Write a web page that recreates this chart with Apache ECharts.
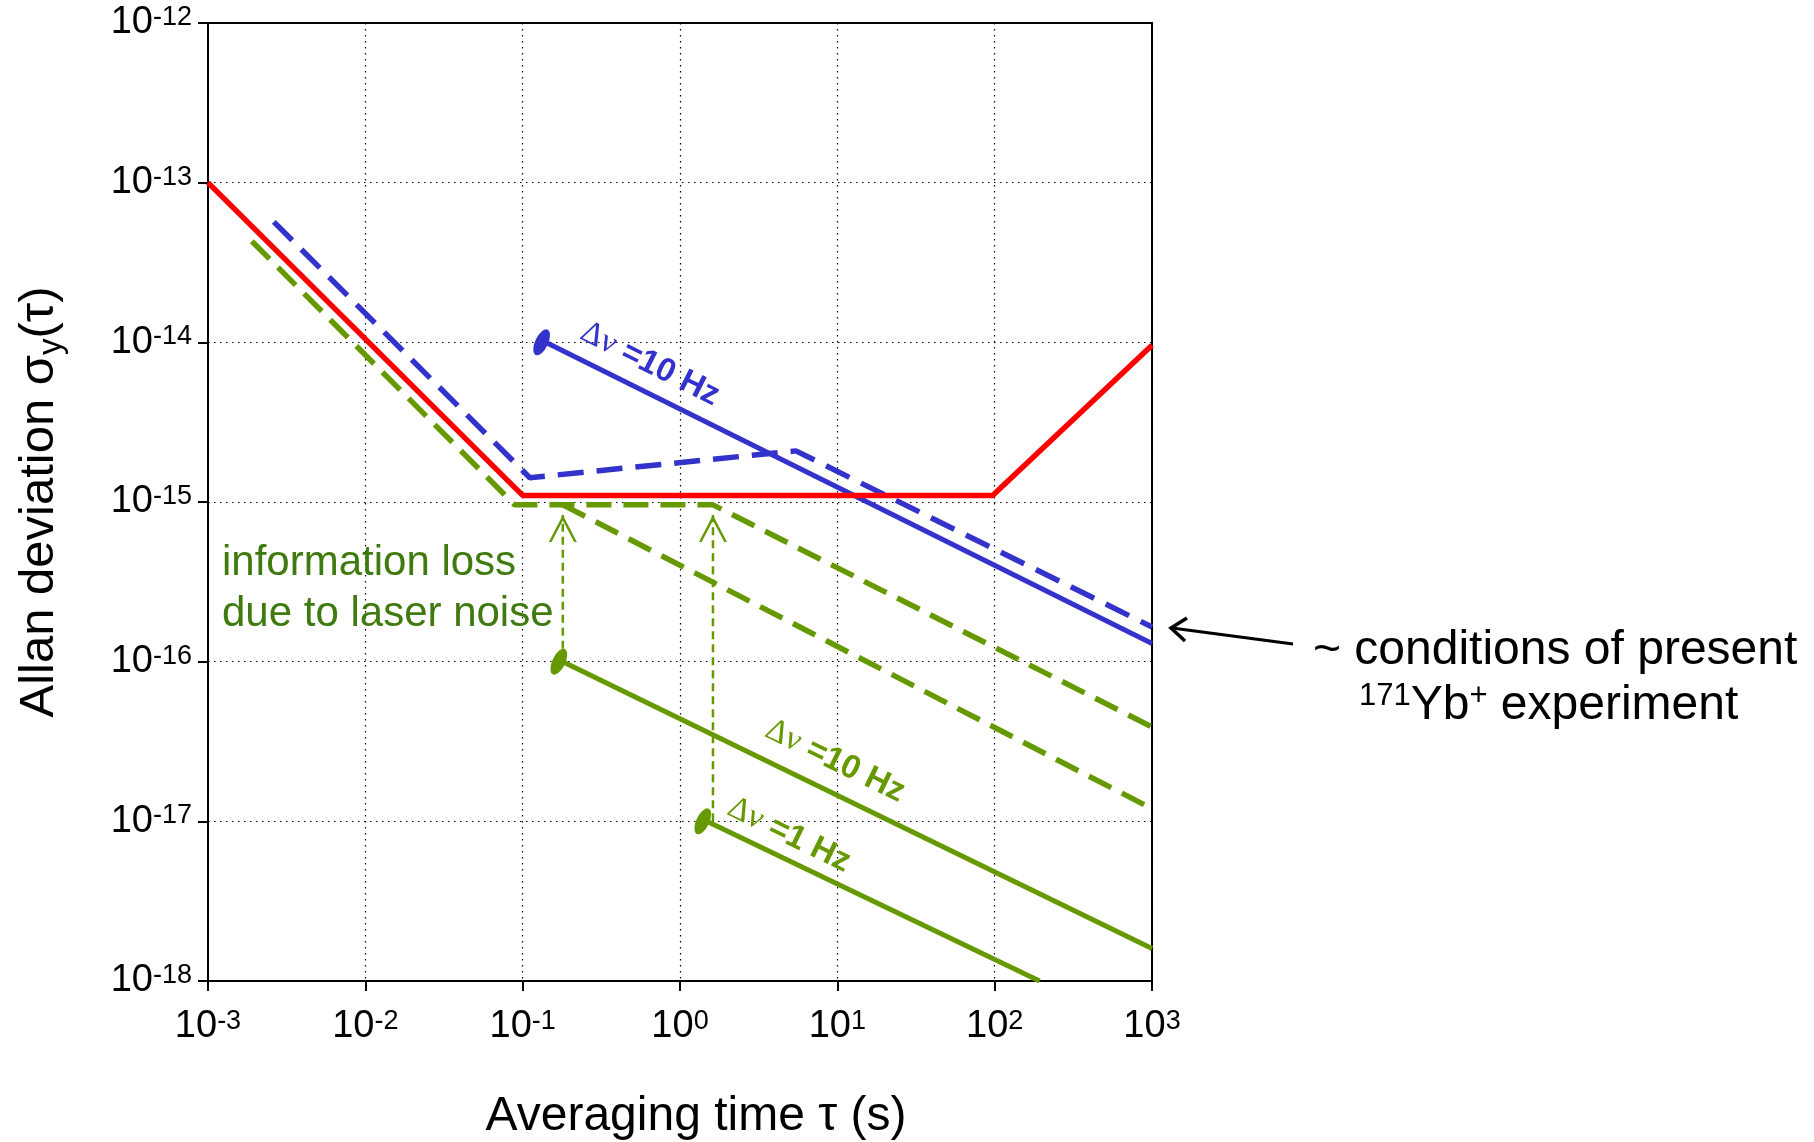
<!DOCTYPE html>
<html><head><meta charset="utf-8">
<script src="https://cdn.jsdelivr.net/npm/echarts@6/dist/echarts.min.js"></script>
<style>html,body{margin:0;padding:0;background:#fff}#c{width:1814px;height:1142px}</style>
</head><body><div id="c"></div>
<script>
// ---- tick labels (exponents of 10) ----
const xExponents = ['-3','-2','-1','0','1','2','3'];
const yExponents = ['-18','-17','-16','-15','-14','-13','-12'];

// ---- series data (tau in s, sigma) ----
const redTau = [1e-3, 0.1, 97, 1000];
const redSigma = [1e-13, 1.1e-15, 1.1e-15, 9.6e-15];

const blueDashTau = [2.62e-3, 0.111, 5.45, 1000];
const blueDashSigma = [5.68e-14, 1.42e-15, 2.09e-15, 1.65e-16];

const blueTau = [0.14, 1000];
const blueSigma = [1e-14, 1.3e-16];

const greenDashTau = [1.9e-3, 0.089, 1.62, 1000];
const greenDashSigma = [4.3e-14, 9.6e-16, 9.6e-16, 3.9e-17];

const greenDash2Tau = [0.18, 1000];
const greenDash2Sigma = [9.6e-16, 1.2e-17];

const green10Tau = [0.18, 1000];
const green10Sigma = [1e-16, 1.6e-18];

const green1Tau = [1.48, 193];
const green1Sigma = [1e-17, 1e-18];

const arrow1Tau = [0.18, 0.18];
const arrow1Sigma = [1e-16, 8.3e-16];
const arrow2Tau = [1.62, 1.62];
const arrow2Sigma = [1e-17, 8.3e-16];

const blueEllipseTau = [0.14];
const blueEllipseSigma = [1e-14];
const greenEllipseTau = [0.18, 1.48];
const greenEllipseSigma = [1e-16, 1e-17];

// ---- styling ----
const RED = '#ff0000', BLUE = '#3333cc', GREEN = '#669900', DKGREEN = '#3f7a0e';
const FONT = '"Liberation Sans", Arial, Helvetica, sans-serif';
const zip = (a, b) => a.map((v, i) => [v, b[i]]);
const ELLIPSE = 'path://M0,-12A5,12,0,1,1,0,12A5,12,0,1,1,0,-12Z';
const CHEVRON = 'path://M0,27L14,0L28,27L25.3,27L14,5.5L2.7,27Z';

const tickRich = {
  b: {fontSize: 38, lineHeight: 38, fontFamily: FONT, color: '#000'},
  s: {fontSize: 27, lineHeight: 27, fontFamily: FONT, color: '#000', verticalAlign: 'top'}
};

function lineSeries(tau, sig, color, width, type, z) {
  return {type: 'line', data: zip(tau, sig), symbol: 'none', silent: true, z: z || 3,
    lineStyle: {color: color, width: width, type: type || 'solid', cap: 'butt'}};
}
function arrowSeries(tau, sig) {
  const d = zip(tau, sig);
  return {type: 'line', silent: true, z: 2, showSymbol: true,
    data: [{value: d[0], symbol: 'none'},
           {value: d[1], symbol: CHEVRON, symbolSize: [28, 27], symbolOffset: [0, '50%']}],
    itemStyle: {color: GREEN},
    lineStyle: {color: GREEN, width: 2.5, type: [8, 5]}};
}
function deltaLabel(text, x, y, rot, color) {
  return {type: 'text', x: x, y: y, rotation: rot, z: 10, silent: true,
    style: {text: '{d|Δν}{t| ' + text + '}', align: 'center', verticalAlign: 'middle', fill: color,
      rich: {d: {fontSize: 33, fontFamily: '"Liberation Serif", serif', fill: color},
             t: {fontSize: 33, fontFamily: FONT, fontWeight: 'bold', fill: color}}}};
}

const chart = echarts.init(document.getElementById('c'), null, {renderer: 'canvas'});
chart.setOption({
  animation: false,
  backgroundColor: '#fff',
  grid: {left: 208, right: 662, top: 23, bottom: 161, show: true, borderColor: '#000', borderWidth: 2,
         outerBoundsMode: 'none'},
  xAxis: {
    type: 'log', logBase: 10, min: 1e-3, max: 1e3, splitNumber: 6,
    name: 'Averaging time τ (s)', nameLocation: 'middle', nameGap: 112, nameMoveOverlap: false,
    nameTextStyle: {fontSize: 48, fontFamily: FONT, color: '#000', padding: [0, 0, 0, 32]},
    axisLine: {show: true, lineStyle: {color: '#000', width: 2}},
    axisTick: {show: true, length: 10, lineStyle: {color: '#000', width: 2}},
    minorTick: {show: false},
    splitLine: {show: true, lineStyle: {color: '#000', width: 1.2, type: [1.5, 4.5]}},
    axisLabel: {margin: 27, showMinLabel: true, showMaxLabel: true, hideOverlap: false,
      formatter: v => '{b|10}{s|' + xExponents[Math.round(Math.log10(v)) + 3] + '}', rich: tickRich}
  },
  yAxis: {
    type: 'log', logBase: 10, min: 1e-18, max: 1e-12, splitNumber: 6,
    name: '{a|Allan deviation σ}{s|y}{a|(τ)}', nameLocation: 'middle', nameRotate: 90, nameGap: 140,
    nameMoveOverlap: false,
    nameTextStyle: {color: '#000', rich: {
      a: {fontSize: 49, lineHeight: 58, fontFamily: FONT, color: '#000'},
      s: {fontSize: 33, lineHeight: 58, fontFamily: FONT, color: '#000', verticalAlign: 'bottom'}
    }},
    axisLine: {show: true, lineStyle: {color: '#000', width: 2}},
    axisTick: {show: true, length: 10, lineStyle: {color: '#000', width: 2}},
    minorTick: {show: false},
    splitLine: {show: true, lineStyle: {color: '#000', width: 1.2, type: [1.5, 4.5]}},
    axisLabel: {margin: 16, showMinLabel: true, showMaxLabel: true, hideOverlap: false,
      formatter: v => '{b|10}{s|' + yExponents[Math.round(Math.log10(v)) + 18] + '}', rich: tickRich}
  },
  series: [
    arrowSeries(arrow1Tau, arrow1Sigma),
    arrowSeries(arrow2Tau, arrow2Sigma),
    lineSeries(greenDashTau, greenDashSigma, GREEN, 5.5, [25, 12]),
    lineSeries(greenDash2Tau, greenDash2Sigma, GREEN, 5.5, [25, 12]),
    lineSeries(green10Tau, green10Sigma, GREEN, 5),
    lineSeries(green1Tau, green1Sigma, GREEN, 5),
    lineSeries(blueDashTau, blueDashSigma, BLUE, 5.5, [26, 13]),
    lineSeries(blueTau, blueSigma, BLUE, 5),
    lineSeries(redTau, redSigma, RED, 5.5, 'solid', 6),
    {type: 'scatter', silent: true, z: 7, data: zip(blueEllipseTau, blueEllipseSigma),
     symbol: ELLIPSE, symbolSize: [13, 28], symbolRotate: -25, symbolOffset: [-4, 0],
     itemStyle: {color: BLUE, opacity: 1}},
    {type: 'scatter', silent: true, z: 7, data: zip(greenEllipseTau, greenEllipseSigma),
     symbol: ELLIPSE, symbolSize: [13, 28], symbolRotate: -25, symbolOffset: [-4, 0],
     itemStyle: {color: GREEN, opacity: 1}}
  ],
  graphic: [
    deltaLabel('=10 Hz', 650, 364, -0.465, BLUE),
    deltaLabel('=10 Hz', 835, 761, -0.455, GREEN),
    deltaLabel('=1 Hz', 789, 835, -0.455, GREEN),
    {type: 'text', x: 222, y: 563, z: 10, silent: true,
     style: {text: 'information loss', fontSize: 42, fontFamily: FONT, fill: DKGREEN, align: 'left', verticalAlign: 'middle'}},
    {type: 'text', x: 222, y: 614, z: 10, silent: true,
     style: {text: 'due to laser noise', fontSize: 42, fontFamily: FONT, fill: DKGREEN, align: 'left', verticalAlign: 'middle'}},
    {type: 'text', x: 1313, y: 651, z: 10, silent: true,
     style: {text: '~ conditions of present', fontSize: 48, fontFamily: FONT, fill: '#000', align: 'left', verticalAlign: 'middle'}},
    {type: 'text', x: 1359, y: 706, z: 10, silent: true,
     style: {text: '{s|171}{b|Yb}{s|+}{b| experiment}', align: 'left', verticalAlign: 'middle', fill: '#000',
       rich: {b: {fontSize: 48, lineHeight: 50, fontFamily: FONT, fill: '#000'},
              s: {fontSize: 31, lineHeight: 31, fontFamily: FONT, fill: '#000', verticalAlign: 'top'}}}},
    {type: 'line', z: 10, silent: true, shape: {x1: 1293, y1: 644, x2: 1172, y2: 628},
     style: {stroke: '#000', lineWidth: 3}},
    {type: 'polyline', z: 10, silent: true, shape: {points: [[1187, 618], [1171, 628], [1185, 641]]},
     style: {stroke: '#000', lineWidth: 3.5, fill: null, lineJoin: 'miter'}}
  ]
});
</script></body></html>
